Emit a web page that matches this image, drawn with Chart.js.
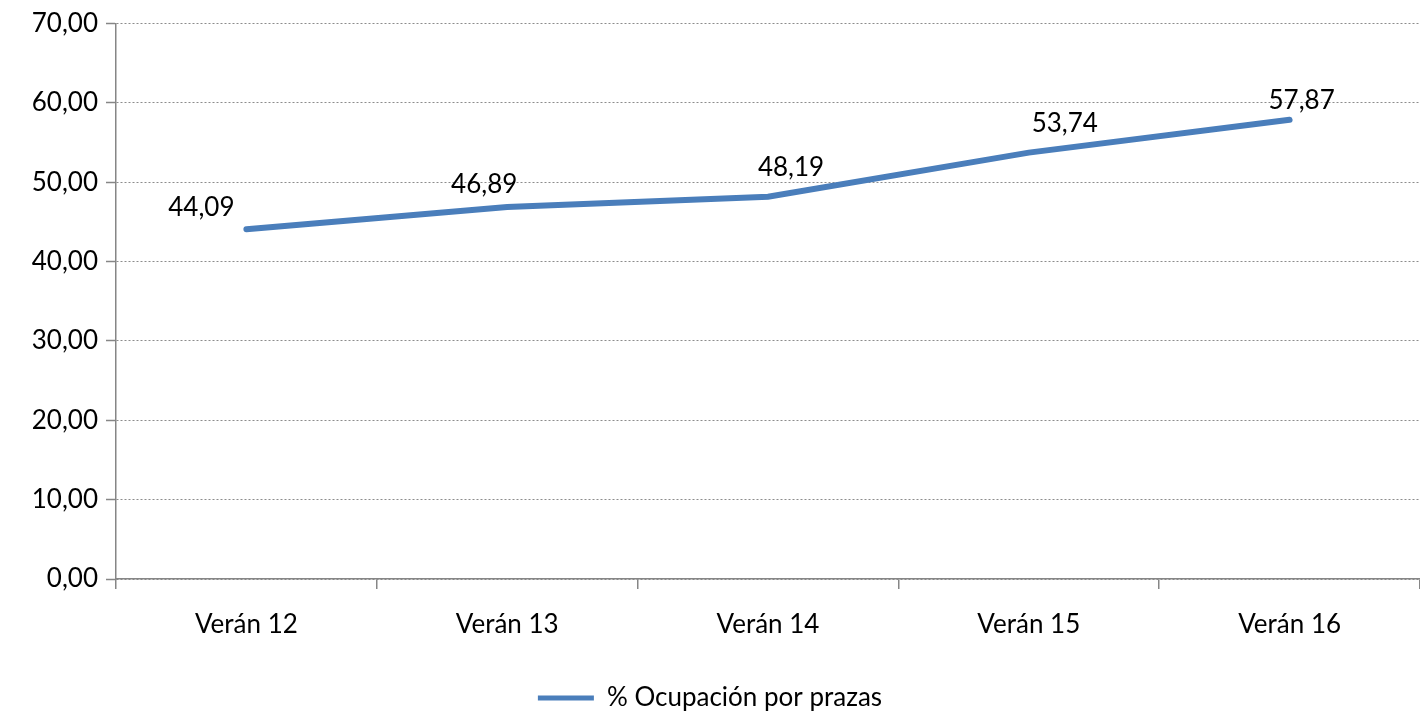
<!DOCTYPE html>
<html>
<head>
<meta charset="utf-8">
<script src="https://cdn.jsdelivr.net/npm/chart.js@4.4.1/dist/chart.umd.min.js"></script>
<style>
  html, body { margin: 0; padding: 0; background: #fff; }
  #wrap { width: 1420px; height: 713px; }
</style>
</head>
<body>
<div id="wrap"><canvas id="myChart" width="1420" height="713"></canvas></div>
<script>
var categorias = ["Verán 12", "Verán 13", "Verán 14", "Verán 15", "Verán 16"];
var ocupacion = [44.09, 46.89, 48.19, 53.74, 57.87];
var nomeSerie = "% Ocupación por prazas";
var ejeMin = 0, ejeMax = 70, ejePaso = 10;

// desprazamento das etiquetas respecto do punto (px)
var etiquetaDx = [-45, -23, 23, 36, 12];
var etiquetaDy = [-22, -22, -29, -29, -19];

var fonte = "Lato, 'Open Sans', sans-serif";
var azul = "#4a7ebb";

function formato(v) {
  return v.toFixed(2).replace(".", ",");
}

var etiquetas = {
  id: "etiquetas",
  afterDatasetsDraw: function (chart) {
    var ctx = chart.ctx;
    var meta = chart.getDatasetMeta(0);
    ctx.save();
    ctx.font = "26px " + fonte;
    ctx.fillStyle = "#000";
    ctx.textAlign = "center";
    ctx.textBaseline = "middle";
    meta.data.forEach(function (p, i) {
      ctx.fillText(formato(ocupacion[i]), p.x + etiquetaDx[i], p.y + etiquetaDy[i]);
    });
    ctx.restore();
  }
};

var ctx = document.getElementById("myChart").getContext("2d");
var myChart = new Chart(ctx, {
  type: "line",
  data: {
    labels: categorias,
    datasets: [
      {
        label: nomeSerie,
        data: ocupacion,
        borderColor: azul,
        backgroundColor: azul,
        borderWidth: 6,
        pointRadius: 0,
        tension: 0,
        borderCapStyle: "round"
      }
    ]
  },
  options: {
    responsive: false,
    animation: false,
    layout: { padding: { top: 22, left: 0, right: 0, bottom: -8 } },
    plugins: {
      tooltip: { enabled: false },
      legend: {
        position: "bottom",
        labels: {
          font: { family: fonte, size: 26 },
          color: "#000",
          boxWidth: 56,
          boxHeight: 5,
          padding: 0,
          generateLabels: function (chart) {
            var items = Chart.defaults.plugins.legend.labels.generateLabels(chart);
            items.forEach(function (it) { it.lineWidth = 0; });
            return items;
          }
        }
      }
    },
    scales: {
      x: {
        offset: true,
        grid: {
          offset: true,
          drawOnChartArea: false,
          drawTicks: true,
          tickLength: 10,
          color: "#868686",
          lineWidth: 1.5
        },
        border: { display: true, color: "#868686", width: 1.5 },
        ticks: {
          color: "#000",
          font: { family: fonte, size: 26 },
          padding: 20
        },
        afterFit: function (scale) { scale.height = 106; }
      },
      y: {
        min: ejeMin,
        max: ejeMax,
        ticks: {
          stepSize: ejePaso,
          color: "#000",
          font: { family: fonte, size: 26 },
          padding: 8,
          callback: function (v) { return formato(v); }
        },
        grid: {
          color: "#8c8c8c",
          lineWidth: 1,
          tickLength: 10,
          tickColor: "#868686",
          tickWidth: 1.5,
          tickBorderDash: []
        },
        border: { display: true, color: "#868686", width: 1.5, dash: [2, 2] },
        afterFit: function (scale) { scale.width = 116; }
      }
    }
  },
  plugins: [etiquetas]
});
</script>
</body>
</html>
